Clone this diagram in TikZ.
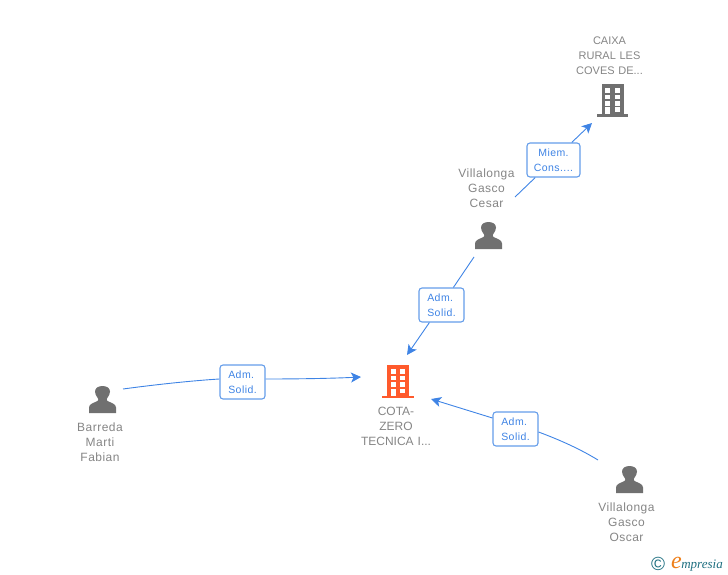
\documentclass[tikz,border=0pt]{standalone}
\usepackage{fontspec}
\setmainfont{Liberation Sans}
\newfontfamily\lblfont[LetterSpace=4]{Liberation Sans}
\newfontfamily\logofont{Liberation Serif}
\usetikzlibrary{arrows.meta}
\definecolor{lblgray}{HTML}{858585}
\definecolor{icongray}{HTML}{707070}
\definecolor{iconorange}{HTML}{FF5A2C}
\definecolor{linkblue}{HTML}{3F84E5}
\definecolor{logoteal}{HTML}{1E6F80}
\definecolor{logoorange}{HTML}{EE7F1A}
\tikzset{
  x=1pt,y=-1pt,
  lbl/.style={text=lblgray,font=\fontsize{12}{15}\lblfont,align=center,inner sep=0pt,text width=80pt},
  capslbl/.style={lbl,font=\fontsize{11}{15}\selectfont},
  coralbl/.style={lbl,font=\fontsize{12}{15}\selectfont},
  tag/.style={draw=linkblue!80!white,line width=1.1pt,rounded corners=3pt,fill=white,text=linkblue,
    font=\fontsize{10.5}{15}\lblfont,inner sep=0pt,minimum height=34pt},
  link/.style={draw=linkblue,line width=0.9pt},
  tip/.style={-{Stealth[length=10pt,width=10pt,inset=2.5pt]}},
  anchorpt/.style={inner sep=0pt,minimum size=0pt},
  pics/building/.style={code={
    \fill[#1] (-11,-16.5) rectangle (11,16.5);
    \foreach \yy in {-12.2,-5.7,0.8}{
      \fill[white] (-7.5,\yy) rectangle (-2.5,\yy+4.6);
      \fill[white] (2,\yy) rectangle (7,\yy+4.6);
    }
    \fill[white] (2,7) rectangle (7,11.6);
    \fill[white] (-7.5,7) rectangle (-2.5,15);
    \fill[#1] (-16,14) rectangle (15.5,16.5);
  }},
  pics/person/.style={code={
    \fill[icongray] (-13.5,13.5) -- (-13.5,8) .. controls (-13.5,4.5) and (-9,3.5) .. (-5,1.5)
      .. controls (-4,1) and (-4,-0.5) .. (-4.5,-1)
      .. controls (-6.5,-3.5) and (-7.5,-6) .. (-7.5,-8)
      .. controls (-7.5,-11.5) and (-4,-13.5) .. (0,-13.5)
      .. controls (4,-13.5) and (7.5,-11.5) .. (7.5,-8)
      .. controls (7.5,-6) and (6.5,-3.5) .. (4.5,-1)
      .. controls (4,-0.5) and (4,1) .. (5,1.5)
      .. controls (9,3.5) and (13.5,4.5) .. (13.5,8) -- (13.5,13.5) -- cycle;
  }}
}
\begin{document}
\begin{tikzpicture}
\useasboundingbox (0,0) rectangle (728,575);
% icons
\pic at (612.5,100.5) {building=icongray};
\pic at (398,381.5) {building=iconorange};
\pic at (488.5,235.5) {person};
\pic at (102.5,399.5) {person};
\pic at (629.5,479.5) {person};
% labels
\node[capslbl] (caixa) at (609.5,55.5) {CAIXA\\RURAL LES\\COVES DE...};
\node[lbl] (cesar) at (486.5,188) {Villalonga\\Gasco\\Cesar};
\node[coralbl] (cota) at (396,426) {COTA-\\ZERO\\TECNICA I...};
\node[lbl] (barreda) at (100,442) {Barreda\\Marti\\Fabian};
\node[lbl] (oscar) at (626.5,522) {Villalonga\\Gasco\\Oscar};
% connector ends
\coordinate (c1a) at (515,197);
\coordinate (c1b) at (592,123);
\coordinate (c2a) at (474,257);
\coordinate (c2b) at (407,355);
\coordinate (c3a) at (123,389);
\coordinate (c3b) at (361,377);
\coordinate (c4a) at (598,460);
\coordinate (c4b) at (431,399);
% tags
\node[tag,minimum width=53pt,align=center] (t1) at (553.5,160) {Miem.\\Cons....};
\node[tag,minimum width=45pt,align=left] (t2) at (441.5,305) {Adm.\\Solid.};
\node[tag,minimum width=45pt,align=left] (t3) at (242.5,382) {Adm.\\Solid.};
\node[tag,minimum width=45pt,align=left] (t4) at (515.5,429) {Adm.\\Solid.};
% connectors
\draw[link] (c1a) -- (t1);
\draw[link,tip] (t1) -- (c1b);
\draw[link] (c2a) -- (t2);
\draw[link,tip] (t2) -- (c2b);
\draw[link] (c3a) .. controls (160,384) and (195,380.5) .. ([yshift=3pt]t3.west);
\draw[link,tip] ([yshift=3pt]t3.east) .. controls (295,379) and (330,378.5) .. (c3b);
\draw[link] (c4a) .. controls (580,449) and (560,440) .. ([yshift=-3pt]t4.east);
\draw[link,tip] ([yshift=11pt]t4.west) -- (c4b);
% logo
\node[anchorpt,text=logoteal,font=\fontsize{19}{19}\selectfont] (copy) at (658,564) {©};
\node[anchorpt,anchor=base west,text=logoteal] (emp) at (671,568.5) {\logofont\itshape\fontsize{13}{13}\selectfont\textcolor{logoorange}{\fontsize{24}{24}\selectfont e}\hspace{-0.5pt}mpresia};
\end{tikzpicture}
\end{document}
